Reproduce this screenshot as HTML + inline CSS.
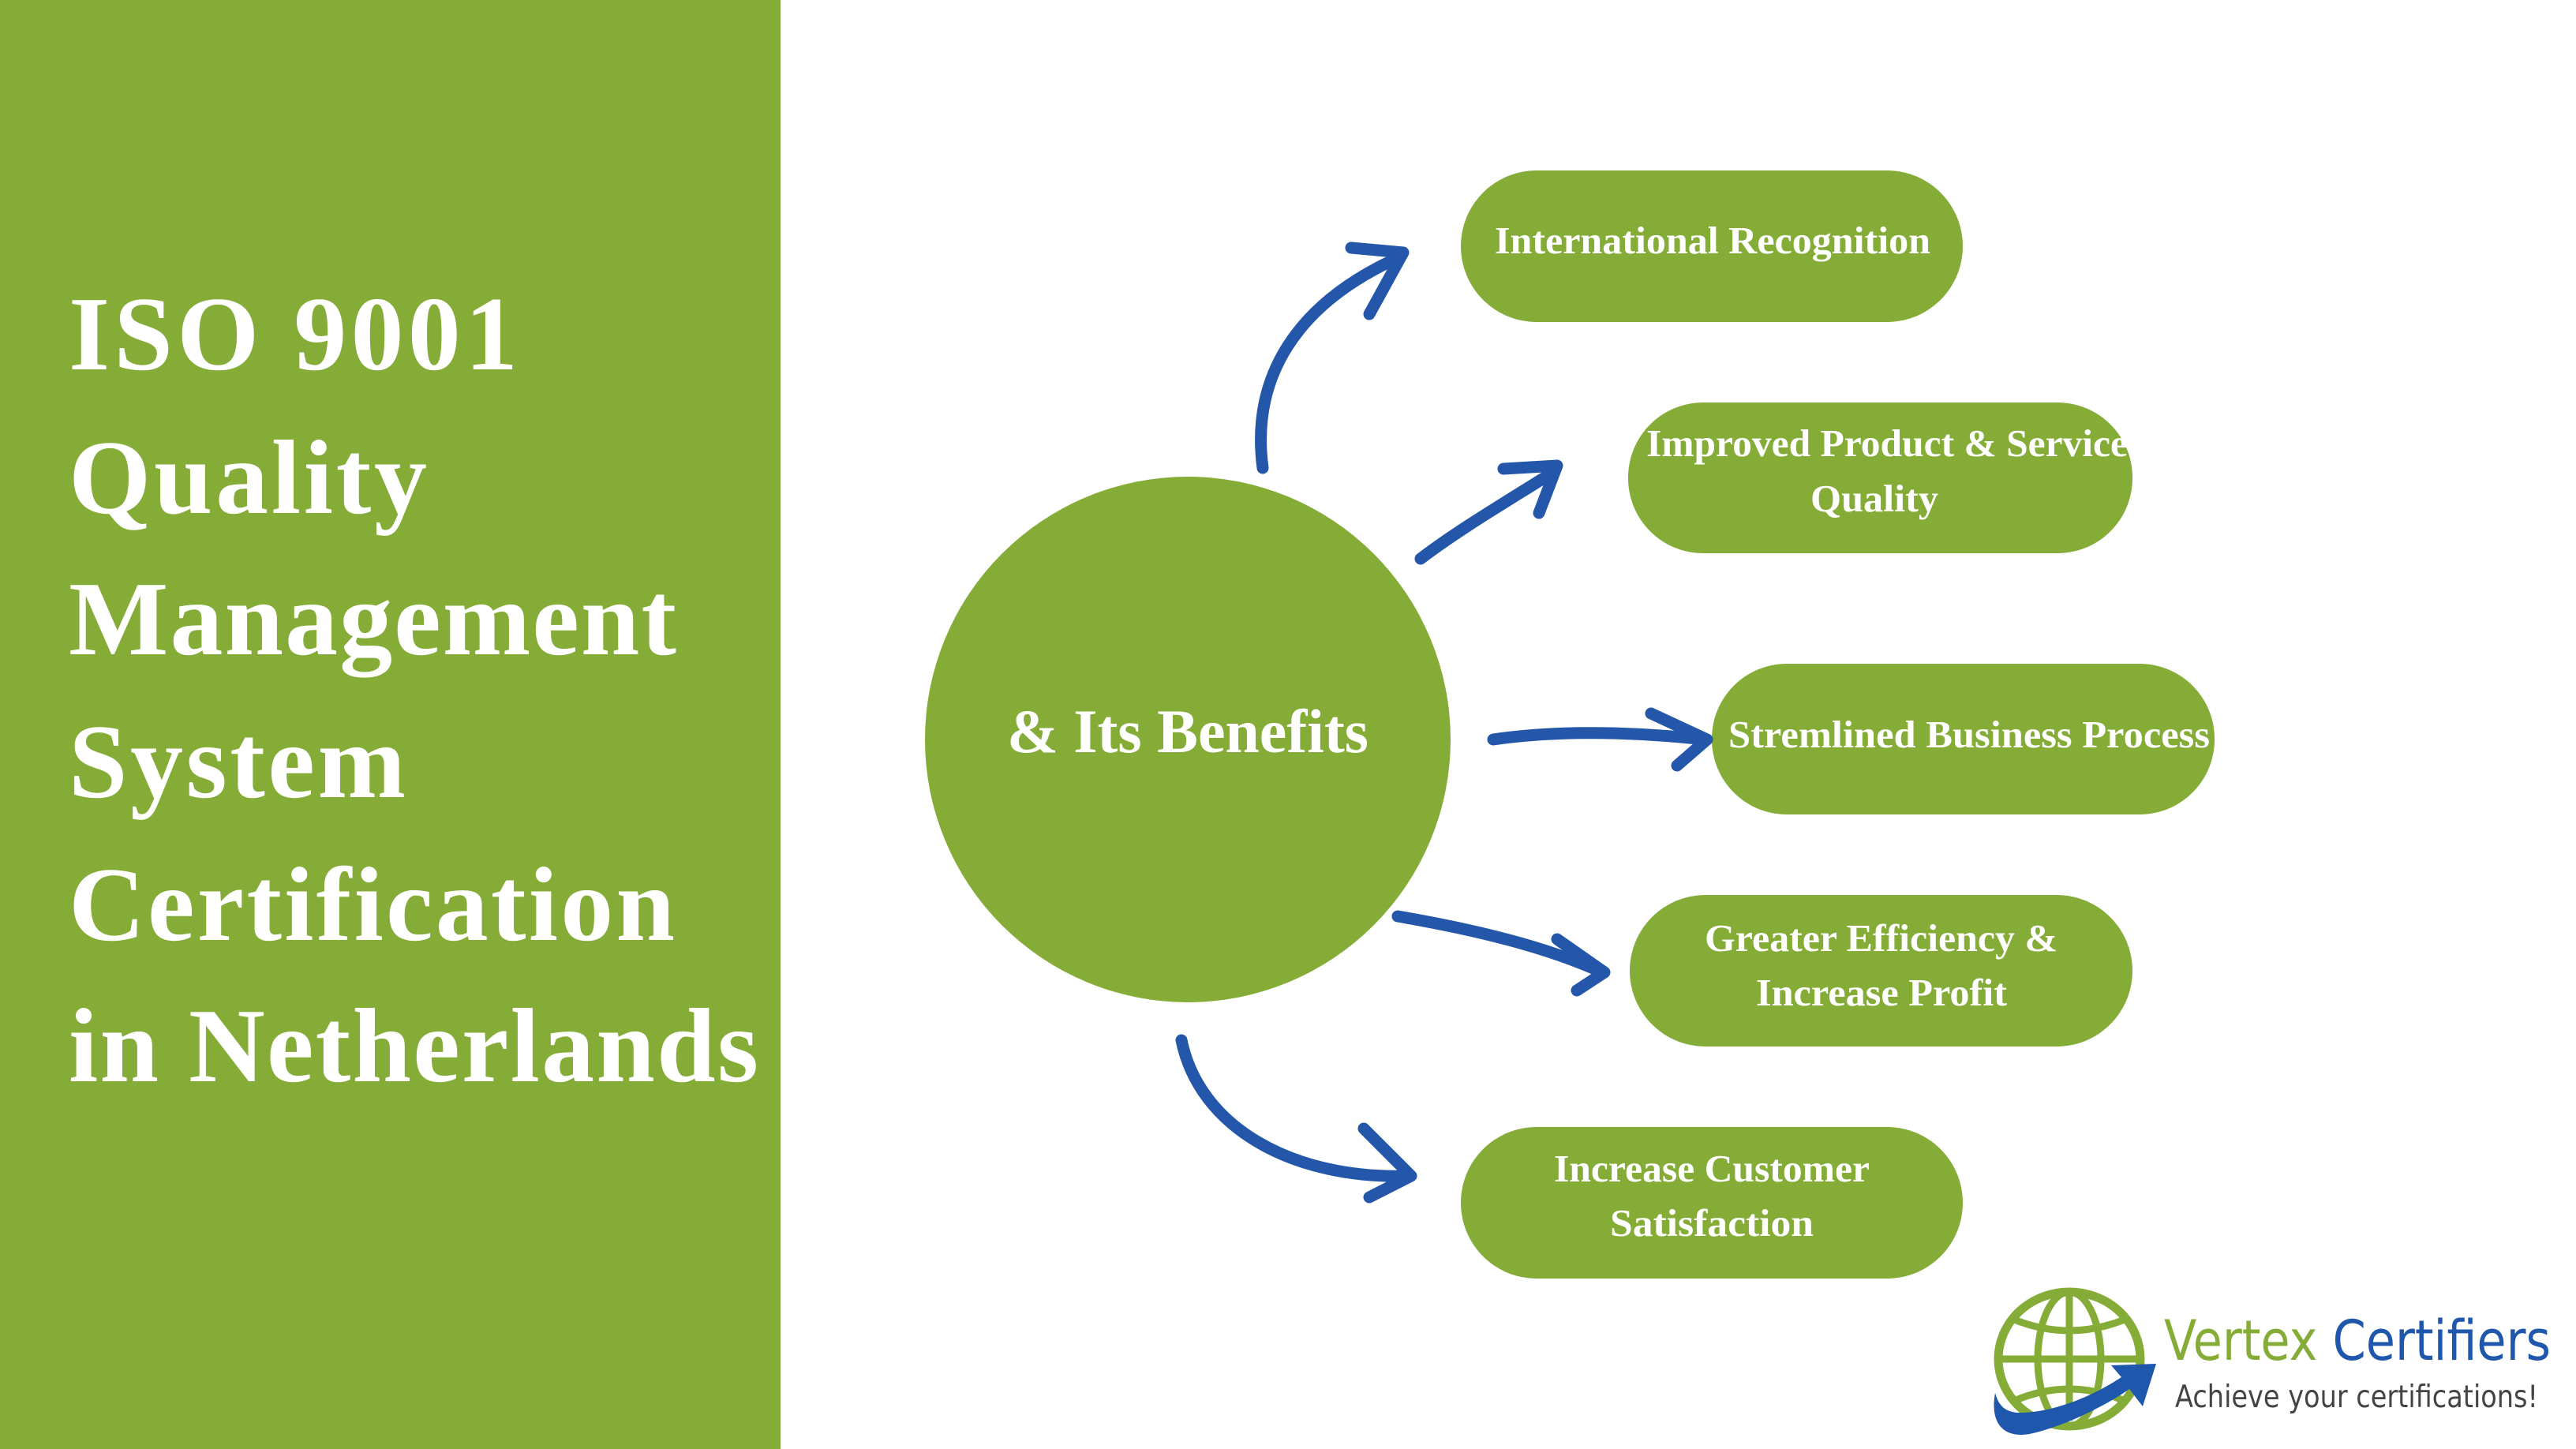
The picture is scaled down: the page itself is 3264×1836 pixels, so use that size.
<!DOCTYPE html>
<html><head><meta charset="utf-8"><style>
html,body{margin:0;padding:0;background:#fff;}
svg{display:block}
</style></head><body>
<svg width="3264" height="1836" viewBox="0 0 3264 1836" xmlns="http://www.w3.org/2000/svg">
<rect x="0" y="0" width="989" height="1836" fill="#84ac36"/>
<g font-family="'Liberation Serif',serif" font-weight="bold" fill="#fff" font-size="134" lengthAdjust="spacing">
<text x="87" y="468" textLength="569" lengthAdjust="spacing">ISO 9001</text>
<text x="87" y="650" textLength="454" lengthAdjust="spacing">Quality</text>
<text x="87" y="829" textLength="770" lengthAdjust="spacing">Management</text>
<text x="87" y="1010" textLength="427" lengthAdjust="spacing">System</text>
<text x="87" y="1191" textLength="768" lengthAdjust="spacing">Certification</text>
<text x="87" y="1370" textLength="874" lengthAdjust="spacing">in Netherlands</text>
</g>
<circle cx="1505" cy="937" r="333" fill="#84ac36"/>
<text x="1276" y="953" textLength="458" lengthAdjust="spacingAndGlyphs" font-family="'Liberation Serif',serif" font-weight="bold" font-size="78" fill="#fff">&amp; Its Benefits</text>
<g fill="#84ac36">
<rect x="1851" y="216" width="636" height="192" rx="96"/>
<rect x="2063" y="510" width="639" height="191" rx="95"/>
<rect x="2169" y="841" width="637" height="191" rx="95"/>
<rect x="2065" y="1134" width="637" height="192" rx="96"/>
<rect x="1851" y="1428" width="636" height="192" rx="96"/>
</g>
<g font-family="'Liberation Serif',serif" font-weight="bold" font-size="49" fill="#fff" lengthAdjust="spacingAndGlyphs">
<text x="1894" y="321" textLength="552" lengthAdjust="spacingAndGlyphs">International Recognition</text>
<text x="2086" y="578" textLength="610" lengthAdjust="spacingAndGlyphs">Improved Product &amp; Service</text>
<text x="2294" y="648" textLength="162" lengthAdjust="spacingAndGlyphs">Quality</text>
<text x="2190" y="947" textLength="610" lengthAdjust="spacingAndGlyphs">Stremlined Business Process</text>
<text x="2160" y="1205" textLength="447" lengthAdjust="spacingAndGlyphs">Greater Efficiency &amp;</text>
<text x="2225" y="1274" textLength="318" lengthAdjust="spacingAndGlyphs">Increase Profit</text>
<text x="1969" y="1497" textLength="400" lengthAdjust="spacingAndGlyphs">Increase Customer</text>
<text x="2040" y="1566" textLength="258" lengthAdjust="spacingAndGlyphs">Satisfaction</text>
</g>
<g fill="none" stroke="#2457aa" stroke-width="15" stroke-linecap="round" stroke-linejoin="round">
<path d="M1600,593 C1585,480 1640,385 1775,325"/>
<path d="M1712,314 L1778,320 L1735,398"/>
<path d="M1800,708 C1850,670 1910,635 1970,597"/>
<path d="M1905,594 L1973,590 L1950,650"/>
<path d="M1892,937 C1960,927 2050,925 2160,937"/>
<path d="M2092,904 L2163,937 L2125,970"/>
<path d="M1771,1161 C1870,1178 1960,1200 2030,1232"/>
<path d="M1973,1190 L2033,1232 L1998,1255"/>
<path d="M1497,1318 C1520,1430 1640,1495 1785,1490"/>
<path d="M1728,1430 L1788,1490 L1735,1517"/>
</g>
<!-- logo -->
<g>
<ellipse cx="2622" cy="1722" rx="90" ry="85" fill="none" stroke="#84ac36" stroke-width="11"/>
<ellipse cx="2622" cy="1722" rx="40" ry="85" fill="none" stroke="#84ac36" stroke-width="9"/>
<line x1="2622" y1="1637" x2="2622" y2="1800" stroke="#84ac36" stroke-width="9"/>
<line x1="2534" y1="1722" x2="2712" y2="1722" stroke="#84ac36" stroke-width="9"/>
<path d="M2552,1672 Q2622,1700 2692,1672" fill="none" stroke="#84ac36" stroke-width="9"/>
<path d="M2552,1775 Q2622,1745 2692,1775" fill="none" stroke="#84ac36" stroke-width="9"/>
<path d="M2528,1765 C2520,1810 2545,1825 2580,1815 C2620,1805 2670,1780 2698,1760 L2715,1782 L2732,1728 L2675,1730 L2688,1745 C2650,1770 2600,1790 2560,1790 C2540,1790 2532,1780 2528,1765 Z" fill="#1f57ad"/>
<text x="2742" y="1723" textLength="490" lengthAdjust="spacingAndGlyphs" font-family="'DejaVu Sans','Liberation Sans',sans-serif" font-size="70"><tspan fill="#84ac36">Vertex</tspan><tspan fill="#1f57ad"> Certifiers</tspan></text>
<text x="2756" y="1783" textLength="460" lengthAdjust="spacingAndGlyphs" font-family="'DejaVu Sans','Liberation Sans',sans-serif" font-size="39" fill="#444">Achieve your certifications!</text>
</g>
</svg>
</body></html>
